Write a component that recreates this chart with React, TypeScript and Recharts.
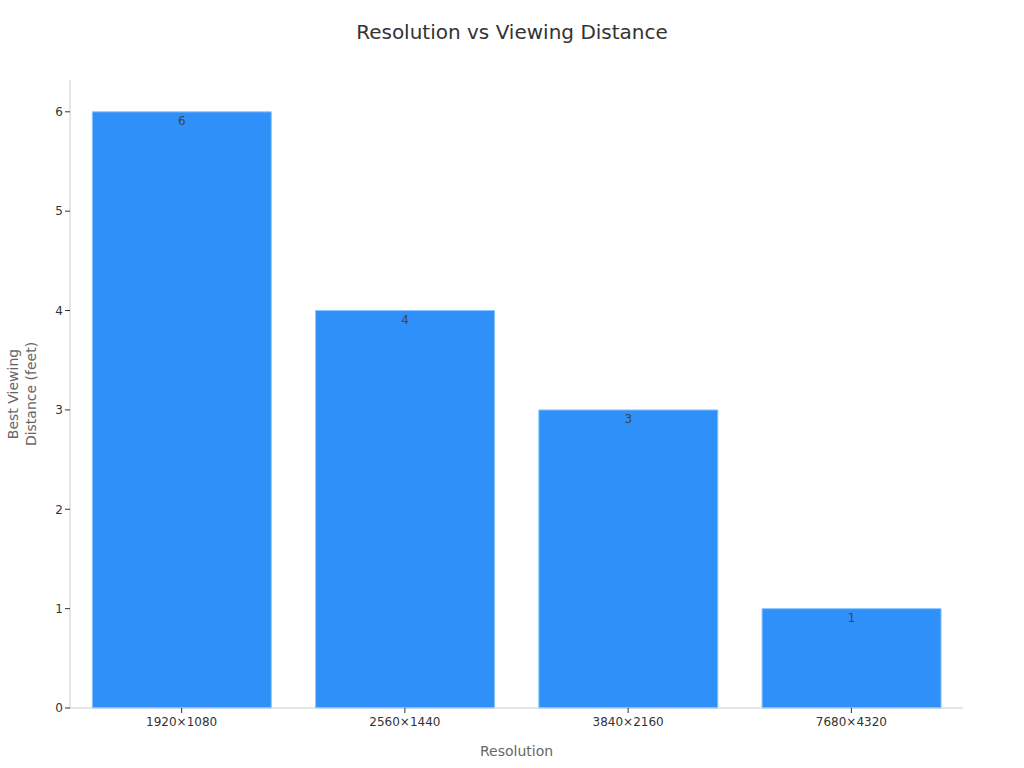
import { BarChart, Bar, XAxis, YAxis, LabelList } from 'recharts';

const resolutions = ['1920×1080', '2560×1440', '3840×2160', '7680×4320'];
const distances = [6, 4, 3, 1];
const yTicks = [0, 1, 2, 3, 4, 5, 6];

const data = resolutions.map((name, i) => ({ name, distance: distances[i] }));

const FONT = '"DejaVu Sans", Verdana, sans-serif';

const YLabel = (props: any) => {
  const vb = props.viewBox || {};
  const cy = vb.y + vb.height / 2;
  const cx = 22;
  return (
    <text
      transform={`rotate(-90, ${cx}, ${cy})`}
      x={cx}
      y={cy}
      textAnchor="middle"
      fill="#666"
      fontSize={14}
      fontFamily={FONT}
    >
      <tspan x={cx} dy={-4}>Best Viewing</tspan>
      <tspan x={cx} dy={18}>Distance (feet)</tspan>
    </text>
  );
};

const XLabel = (props: any) => {
  const vb = props.viewBox || {};
  return (
    <text
      x={vb.x + vb.width / 2}
      y={vb.y + 48}
      textAnchor="middle"
      fill="#666"
      fontSize={14}
      fontFamily={FONT}
    >
      Resolution
    </text>
  );
};

export default function App() {
  return (
    <div style={{ position: 'fixed', left: 0, top: 0, width: 1024, height: 768, background: '#fff', fontFamily: FONT }}>
      <div
        style={{
          position: 'absolute',
          top: 20,
          left: 0,
          width: 1024,
          textAlign: 'center',
          fontSize: 20,
          color: '#333',
        }}
      >
        Resolution vs Viewing Distance
      </div>
      <BarChart
        width={1024}
        height={768}
        data={data}
        margin={{ top: 80, right: 61, bottom: 30, left: 10 }}
        barCategoryGap="10%"
      >
        <XAxis
          dataKey="name"
          height={30}
          stroke="#ccc"
          tickLine={{ stroke: '#333' }}
          tickSize={5}
          tickMargin={4}
          tick={{ fill: '#333', fontSize: 12, fontFamily: FONT }}
          label={<XLabel />}
        />
        <YAxis
          width={60}
          domain={[0, 6.32]}
          ticks={yTicks}
          stroke="#ccc"
          tickLine={{ stroke: '#333' }}
          tickSize={5}
          tick={{ fill: '#333', fontSize: 12, fontFamily: FONT }}
          label={<YLabel />}
        />
        <Bar dataKey="distance" fill="#2e90f8" stroke="#8cc6ff" strokeWidth={1} isAnimationActive={false}>
          <LabelList
            dataKey="distance"
            position="insideTop"
            offset={5}
            fill="#444"
            fontSize={12}
            fontFamily={FONT}
          />
        </Bar>
      </BarChart>
    </div>
  );
}
